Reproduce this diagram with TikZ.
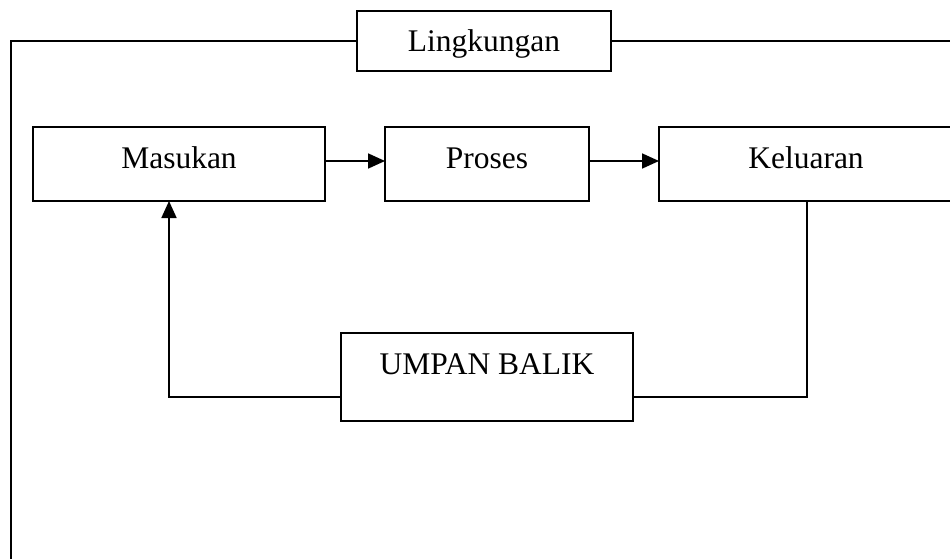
\documentclass[tikz,border=0pt]{standalone}
\usepackage{fontspec}
\setmainfont{Liberation Serif}
\usetikzlibrary{arrows.meta}
\begin{document}
\begin{tikzpicture}[x=1pt,y=-1pt,line width=1.8pt,
  boxnode/.style={draw,line width=1.8pt,fill=white,inner sep=0pt,outer sep=0pt,
    font=\fontsize{31.5}{36}\selectfont},
  midtext/.style={text height=22pt,text depth=14pt},
  arr/.style={-{Triangle[length=17pt,width=15pt]}}]
\useasboundingbox (0,0) rectangle (950,559);
\clip (0,0) rectangle (950,559);
% frame
\coordinate (ftl) at (11,40.7);
\coordinate (fbl) at (11,559);
\coordinate (ftr) at (950,40.7);
\node[boxnode,minimum width=254pt,minimum height=60pt,text height=22pt,text depth=0pt] (lingk) at (484,40.7) {Lingkungan};
\draw (lingk.west) -- (ftl) -- (fbl);
\draw (lingk.east) -- (ftr);
% main boxes
\node[boxnode,midtext,minimum width=292pt,minimum height=74pt] (mas) at (179,164) {Masukan};
\node[boxnode,midtext,minimum width=204pt,minimum height=74pt] (pro) at (487,164) {Proses};
\node[boxnode,midtext,minimum width=294pt,minimum height=74pt] (kel) at (806,164) {Keluaran};
\node[boxnode,minimum width=292pt,minimum height=88pt,text height=22pt,text depth=28pt] (ub) at (487,377) {UMPAN BALIK};
% connectors
\draw[arr] ([yshift=3pt]mas.east) -- ([yshift=3pt]pro.west);
\draw[arr] ([yshift=3pt]pro.east) -- ([yshift=3pt]kel.west);
\draw ([yshift=-20pt]ub.east) -| ([xshift=1pt]kel.south);
\draw[arr] ([yshift=-20pt]ub.west) -| ([xshift=-10pt]mas.south);
\end{tikzpicture}
\end{document}
